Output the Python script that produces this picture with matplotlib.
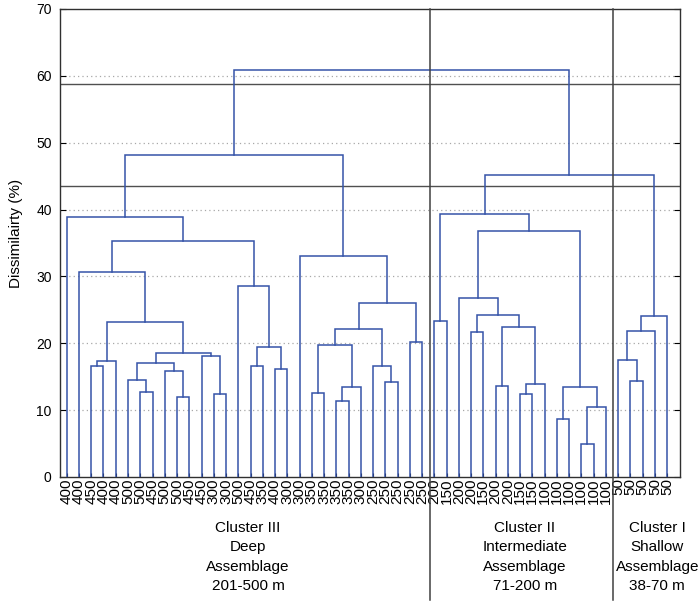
import matplotlib
matplotlib.use("Agg")
import matplotlib.pyplot as plt
from matplotlib.lines import Line2D

plt.rcParams['font.family'] = ['Liberation Sans', 'DejaVu Sans']

# leaf labels (station depth, m) in dendrogram order
depth_labels = ["400", "400", "450", "400", "400", "500", "500", "450", "500", "500",
                "450", "450", "300", "300", "500", "450", "350", "400", "300", "300",
                "350", "350", "350", "350", "300", "250", "250", "250", "250", "250",
                "200", "150", "200", "200", "150", "200", "200", "150", "150", "100",
                "100", "100", "100", "100", "100", "50", "50", "50", "50", "50"]

# linkage: (left node, right node, dissimilarity); new nodes numbered from 50
merges = [
    (2, 3, 16.6), (50, 4, 17.35), (6, 7, 12.76), (5, 52, 14.55), (9, 10, 12.0),
    (8, 54, 15.8), (53, 55, 17.05), (12, 13, 12.4), (11, 57, 18.15), (56, 58, 18.55),
    (51, 59, 23.2), (1, 60, 30.6), (15, 16, 16.55), (17, 18, 16.2), (62, 63, 19.5),
    (14, 64, 28.5), (61, 65, 35.3), (0, 66, 38.9), (20, 21, 12.5), (22, 23, 11.3),
    (69, 24, 13.5), (68, 70, 19.8), (26, 27, 14.2), (25, 72, 16.6), (71, 73, 22.1),
    (28, 29, 20.25), (74, 75, 26.0), (19, 76, 33.0), (67, 77, 48.2), (30, 31, 23.4),
    (33, 34, 21.7), (35, 36, 13.6), (37, 38, 12.4), (82, 39, 13.9), (81, 83, 22.4),
    (80, 84, 24.2), (32, 85, 26.7), (40, 41, 8.65), (42, 43, 5.0), (88, 44, 10.5),
    (87, 89, 13.4), (86, 90, 36.8), (79, 91, 39.4), (46, 47, 14.3), (45, 93, 17.45),
    (94, 48, 21.85), (95, 49, 24.1), (92, 96, 45.1), (78, 97, 60.9),
]

cut_levels = [58.8, 43.5]
cluster_edges = [29.67, 44.57]
cluster_names = ["Cluster III\nDeep\nAssemblage\n201-500 m",
                 "Cluster II\nIntermediate\nAssemblage\n71-200 m",
                 "Cluster I\nShallow\nAssemblage\n38-70 m"]
cluster_centres = [14.8, 37.4, 48.2]

line_blue = '#3553a8'

fig = plt.figure(figsize=(7.0, 6.16), dpi=100)
ax = fig.add_axes([60 / 700, 1 - 477 / 616, 620 / 700, 468 / 616])

n = len(depth_labels)
pos = {i: float(i) for i in range(n)}
top = {i: 0.0 for i in range(n)}
for k, (a, b, h) in enumerate(merges):
    ax.plot([pos[a], pos[a], pos[b], pos[b]], [top[a], h, h, top[b]],
            color=line_blue, lw=1.1, solid_joinstyle='miter', zorder=3)
    pos[n + k] = (pos[a] + pos[b]) / 2
    top[n + k] = h

ax.set_xlim(-0.55, 50.05)
ax.set_ylim(0, 70)
ax.set_yticks(range(0, 80, 10))
ax.set_xticks(range(n))
ax.set_xticklabels(depth_labels, rotation=90, fontsize=11)
ax.tick_params(axis='x', direction='in', length=3, pad=1)
ax.tick_params(axis='y', direction='in', length=4, labelsize=10, right=True, pad=6)

for yv in range(10, 70, 10):
    ax.axhline(yv, color='#a8a8a8', lw=0.9, ls=(0, (1, 2.5)), zorder=1)
for yv in cut_levels:
    ax.axhline(yv, color='#505050', lw=1.0, zorder=2)

trans = ax.get_xaxis_transform()
for xv in cluster_edges:
    ax.add_line(Line2D([xv, xv], [1, -0.263], transform=trans, color='#404040',
                       lw=1.1, clip_on=False, zorder=4))

for xv, name in zip(cluster_centres, cluster_names):
    ax.text(xv, -0.093, name, transform=trans, ha='center', va='top',
            fontsize=11, linespacing=1.5)

ax.set_ylabel("Dissimilairty (%)", fontsize=11)
ax.yaxis.set_label_coords(-0.06, 0.52)
for sp in ax.spines.values():
    sp.set_color('#303030')
    sp.set_linewidth(1.0)

plt.savefig('out.png', dpi=100)
